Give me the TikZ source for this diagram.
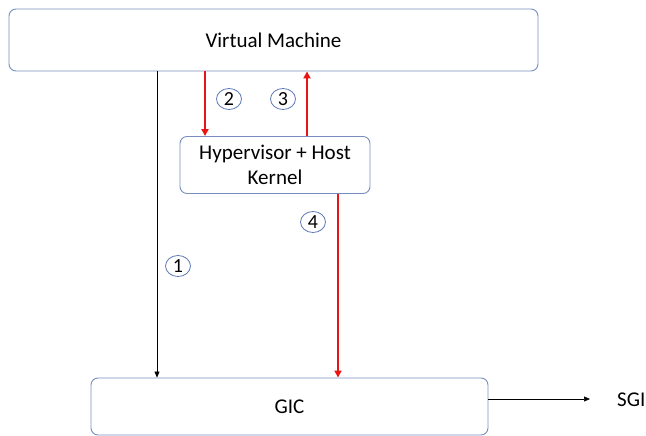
\documentclass[tikz,border=0pt]{standalone}
\usepackage{fontspec}
\setmainfont{Carlito}
\usetikzlibrary{shapes.geometric,arrows.meta}
\definecolor{boxline}{RGB}{120,142,192}
\definecolor{numline}{RGB}{90,118,180}
\definecolor{redline}{RGB}{235,20,20}
\tikzset{
  box/.style={draw=boxline, line width=0.9pt, rounded corners=7pt, font=\fontsize{21}{25}\selectfont, align=center, inner sep=0pt},
  num/.style={draw=numline, ellipse, line width=0.8pt, minimum width=25pt, minimum height=21pt, inner sep=0pt, font=\fontsize{20}{20}\selectfont},
  blk/.style={draw=black, line width=0.6pt, -{Triangle[length=6pt,width=5pt]}},
  red/.style={draw=redline, line width=2pt, -{Triangle[length=7pt,width=7pt]}}
}
\begin{document}
\begin{tikzpicture}[x=1pt,y=-1pt]
\useasboundingbox (0,0) rectangle (646,436);
\node[box, minimum width=529pt, minimum height=62pt] (vm) at (273.5,40) {Virtual Machine};
\node[box, minimum width=190pt, minimum height=57pt] (hyp) at (275,165) {Hypervisor + Host\\Kernel};
\node[box, minimum width=397pt, minimum height=57pt] (gic) at (289.5,406.5) {GIC};
\node[font=\fontsize{21}{25}\selectfont, anchor=west, inner sep=0pt] (sgi) at (617,400) {SGI};
\coordinate (sgiend) at (590,399);
\coordinate (gicr) at (gic.east |- sgiend);

\draw[blk] (vm.south -| 157,0) -- (gic.north -| 157,0);
\draw[red] (vm.south -| 205,0) -- (hyp.north -| 205,0);
\draw[red] (hyp.north -| 307,0) -- (vm.south -| 307,0);
\draw[red] (hyp.south -| 338,0) -- (gic.north -| 338,0);
\draw[blk] (gicr) -- (sgiend);

\node[num] (n1) at (178,266) {1};
\node[num] (n2) at (229,99) {2};
\node[num] (n3) at (283,99) {3};
\node[num] (n4) at (313,222) {4};
\end{tikzpicture}
\end{document}
